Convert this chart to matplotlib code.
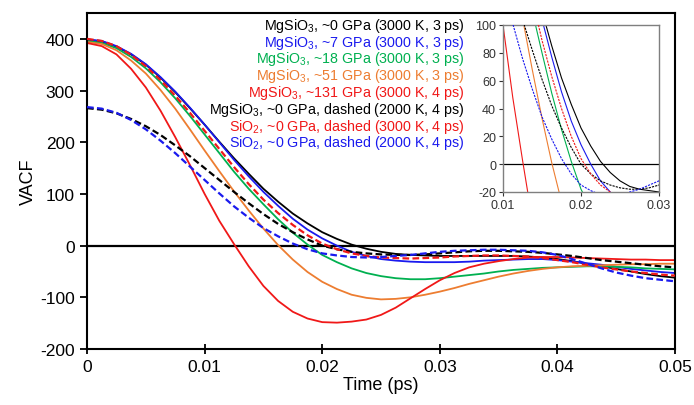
import matplotlib.pyplot as plt

plt.rcParams['font.family'] = ['Liberation Sans', 'DejaVu Sans']
plt.rcParams['mathtext.fontset'] = 'custom'
plt.rcParams['mathtext.rm'] = 'Liberation Sans'
plt.rcParams['mathtext.it'] = 'Liberation Sans'
plt.rcParams['axes.unicode_minus'] = False

# time grid (ps), step 0.00125
t = [0, 0.00125, 0.0025, 0.00375, 0.005, 0.00625, 0.0075, 0.00875, 0.01, 0.01125,
     0.0125, 0.01375, 0.015, 0.01625, 0.0175, 0.01875, 0.02, 0.02125, 0.0225, 0.02375,
     0.025, 0.02625, 0.0275, 0.02875, 0.03, 0.03125, 0.0325, 0.03375, 0.035, 0.03625,
     0.0375, 0.03875, 0.04, 0.04125, 0.0425, 0.04375, 0.045, 0.04625, 0.0475, 0.04875, 0.05]

# VACF curves
mg0_3000 = [398, 395, 385, 370, 350, 325, 297, 266, 234, 201, 169, 139, 110, 85, 62, 43, 26, 13, 2, -6,
            -12, -16, -18, -19, -20, -20, -20, -20, -20, -20, -21, -23, -26, -30, -35, -40, -45, -50, -55, -59, -62]
mg7_3000 = [399, 396, 386, 371, 351, 326, 298, 267, 234, 200, 166, 134, 104, 77, 52, 31, 14, 0, -12, -20,
            -26, -29, -31, -32, -32, -32, -31, -29, -28, -27, -26, -26, -28, -31, -34, -37, -41, -45, -48, -51, -53]
mg18_3000 = [396, 392, 382, 365, 343, 316, 285, 251, 215, 179, 143, 110, 80, 51, 25, 2, -18, -32, -44, -53,
             -59, -63, -65, -65, -63, -60, -57, -54, -50, -47, -45, -43, -42, -41, -40, -40, -41, -42, -44, -45, -46]
mg51_3000 = [394, 390, 378, 358, 333, 301, 265, 225, 184, 144, 105, 68, 33, 1, -27, -51, -70, -84, -95, -101,
             -104, -103, -100, -95, -89, -82, -74, -67, -60, -54, -49, -45, -42, -40, -39, -38, -37, -36, -36, -35, -35]
mg131_3000 = [392, 386, 370, 342, 306, 261, 210, 156, 100, 48, 3, -40, -78, -107, -128, -141, -148, -149, -147, -143,
              -134, -120, -102, -84, -67, -53, -42, -35, -30, -26, -23, -22, -22, -23, -24, -25, -26, -27, -27, -28, -28]
mg0_2000 = [266, 263, 256, 245, 231, 214, 194, 173, 150, 127, 104, 82, 61, 42, 26, 12, 0, -7, -12, -15,
            -17, -18, -18, -17, -15, -13, -11, -10, -10, -11, -12, -14, -17, -20, -24, -28, -31, -34, -37, -40, -42]
si0_3000 = [400, 396, 386, 369, 347, 320, 290, 257, 222, 187, 152, 119, 89, 63, 40, 20, 4, -7, -15, -20,
            -23, -24, -25, -24, -23, -21, -20, -19, -19, -20, -21, -24, -28, -32, -37, -42, -46, -50, -53, -56, -58]
si0_2000 = [268, 265, 257, 243, 225, 203, 179, 153, 127, 101, 76, 54, 34, 18, 4, -7, -15, -19, -22, -23,
            -22, -20, -18, -15, -12, -10, -9, -8, -8, -9, -10, -13, -18, -26, -35, -44, -52, -58, -63, -66, -69]

BLACK = '#000000'
BLUE = '#1a1aee'
GREEN = '#00b050'
ORANGE = '#ed7d31'
RED = '#f01818'

series = [
    (mg0_3000, BLACK, '-'),
    (mg7_3000, BLUE, '-'),
    (mg18_3000, GREEN, '-'),
    (mg51_3000, ORANGE, '-'),
    (mg131_3000, RED, '-'),
    (mg0_2000, BLACK, '--'),
    (si0_3000, RED, '--'),
    (si0_2000, BLUE, '--'),
]

labels = [
    'MgSiO$_3$, ~0 GPa (3000 K, 3 ps)',
    'MgSiO$_3$, ~7 GPa (3000 K, 3 ps)',
    'MgSiO$_3$, ~18 GPa (3000 K, 3 ps)',
    'MgSiO$_3$, ~51 GPa (3000 K, 3 ps)',
    'MgSiO$_3$, ~131 GPa (3000 K, 4 ps)',
    'MgSiO$_3$, ~0 GPa, dashed (2000 K, 4 ps)',
    'SiO$_2$, ~0 GPa, dashed (3000 K, 4 ps)',
    'SiO$_2$, ~0 GPa, dashed (2000 K, 4 ps)',
]
label_colors = [BLACK, BLUE, GREEN, ORANGE, RED, BLACK, RED, BLUE]

fig = plt.figure(figsize=(6.94, 4.06), dpi=100)
ax = fig.add_axes([0.1254, 0.1379, 0.8472, 0.8276])

ax.axhline(0, color='black', lw=1.6, zorder=1)
for y, c, ls in series:
    if ls == '-':
        ax.plot(t, y, color=c, lw=1.3, zorder=2)
    else:
        ax.plot(t, y, color=c, lw=1.6, ls=(0, (3, 1.5)), zorder=3)

ax.set_xlim(0, 0.05)
ax.set_ylim(-200, 450)
ax.set_yticks([-200, -100, 0, 100, 200, 300, 400])
ax.set_xticks([0, 0.01, 0.02, 0.03, 0.04, 0.05])
ax.set_xticklabels(['0', '0.01', '0.02', '0.03', '0.04', '0.05'])
ax.tick_params(axis='x', direction='inout', length=7, width=1.3, labelsize=12.5, pad=4)
ax.tick_params(axis='y', direction='out', length=5, width=1.3, labelsize=12.5, pad=4)
for s in ax.spines.values():
    s.set_linewidth(1.5)
ax.set_xlabel('Time (ps)', fontsize=13, labelpad=1)
ax.set_ylabel('VACF', fontsize=13, labelpad=2)

for i, (lab, c) in enumerate(zip(labels, label_colors)):
    ax.text(465 / 694, 1 - (26 + i * 16.75) / 406, lab, transform=fig.transFigure,
            ha='right', va='center', color=c, fontsize=10.3)

# inset
ins = fig.add_axes([503 / 694, 1 - 193 / 406, 156 / 694, 167 / 406])
ins.axhline(0, color='black', lw=0.9, zorder=1)
for y, c, ls in series:
    if ls == '-':
        ins.plot(t, y, color=c, lw=0.8, zorder=2)
    else:
        ins.plot(t, y, color=c, lw=0.8, ls=(0, (2, 1)), zorder=3)
ins.set_xlim(0.01, 0.03)
ins.set_ylim(-20, 100)
ins.set_xticks([0.01, 0.02, 0.03])
ins.set_xticklabels(['0.01', '0.02', '0.03'])
ins.set_yticks([-20, 0, 20, 40, 60, 80, 100])
ins.tick_params(direction='out', length=3, width=0.8, labelsize=9, pad=2, colors='#333333')
for s in ins.spines.values():
    s.set_color('#7f7f7f')
    s.set_linewidth(1.0)

fig.savefig('out.png', dpi=100)
